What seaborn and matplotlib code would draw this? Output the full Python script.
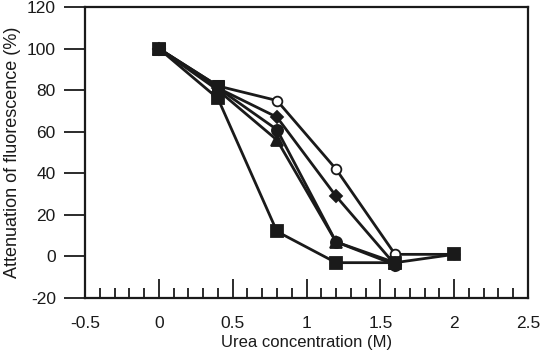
import matplotlib
matplotlib.use("Agg")
import matplotlib.pyplot as plt
import seaborn as sns
import pandas as pd
from matplotlib.ticker import MultipleLocator

sns.set_theme(style="white")
plt.rcParams['font.family'] = ['Liberation Sans', 'DejaVu Sans']
plt.rcParams['axes.unicode_minus'] = False

urea = [0, 0.4, 0.8, 1.2, 1.6, 2.0]
square_vals = [100, 76, 12, -3, -3, 1]
open_circle_vals = [100, 82, 75, 42, 1, 1]
diamond_vals = [100, 81, 67, 29, -4]
filled_circle_vals = [100, 81, 61, 7, -4]
triangle_vals = [100, 80, 56, 7, -3]
square2_vals = [100, 82]

xticks = [-0.5, 0, 0.5, 1, 1.5, 2, 2.5]
yticks = [-20, 0, 20, 40, 60, 80, 100, 120]

series = [
    ("open", open_circle_vals, "o", "white", 7),
    ("diamond", diamond_vals, "D", "#1a1a1a", 6),
    ("circle", filled_circle_vals, "o", "#1a1a1a", 8),
    ("triangle", triangle_vals, "^", "#1a1a1a", 8),
    ("square", square_vals, "s", "#1a1a1a", 8),
]

fig = plt.figure(figsize=(5.42, 3.52), dpi=100)
ax = fig.add_axes([85/542, 1-298/352, (528-85)/542, (298-7)/352])

line_color = "#1a1a1a"
for name, vals, mk, fc, ms in series:
    df = pd.DataFrame({"x": urea[:len(vals)], "y": vals})
    sns.lineplot(data=df, x="x", y="y", ax=ax, color=line_color, linewidth=2.0,
                 marker=mk, markersize=ms, markerfacecolor=fc,
                 markeredgecolor=line_color, markeredgewidth=1.3)
# square markers drawn on top of the overlapping points at 0.4 M
df2 = pd.DataFrame({"x": urea[:len(square2_vals)], "y": square2_vals})
sns.lineplot(data=df2, x="x", y="y", ax=ax, color=line_color, linewidth=2.0,
             marker="s", markersize=9, markerfacecolor=line_color,
             markeredgecolor=line_color)

ax.set_xlim(-0.5, 2.5)
ax.set_ylim(-20, 120)
ax.set_xticks(xticks)
ax.set_xticklabels([f"{t:g}" for t in xticks])
ax.set_yticks(yticks)
ax.xaxis.set_minor_locator(MultipleLocator(0.1))
ax.tick_params(axis="x", which="major", direction="in", length=14, width=1.3,
               colors="#1a1a1a", labelsize=12.5, pad=13, bottom=True)
ax.tick_params(axis="x", which="minor", direction="in", length=7, width=1.3,
               colors="#1a1a1a", bottom=True)
ax.tick_params(axis="y", which="major", direction="out", length=15, width=1.3,
               colors="#1a1a1a", labelsize=12.5, pad=6, left=True)
for lab in ax.get_xticklabels() + ax.get_yticklabels():
    lab.set_color("#1a1a1a")
for sp in ax.spines.values():
    sp.set_visible(True)
    sp.set_color("#1a1a1a")
    sp.set_linewidth(1.6)
ax.set_xlabel("Urea concentration (M)", fontsize=12, color="#1a1a1a", labelpad=3)
ax.set_ylabel("Attenuation of fluorescence (%)", fontsize=13, color="#1a1a1a", labelpad=4)
ax.grid(False)

fig.savefig("out.png", dpi=100)
